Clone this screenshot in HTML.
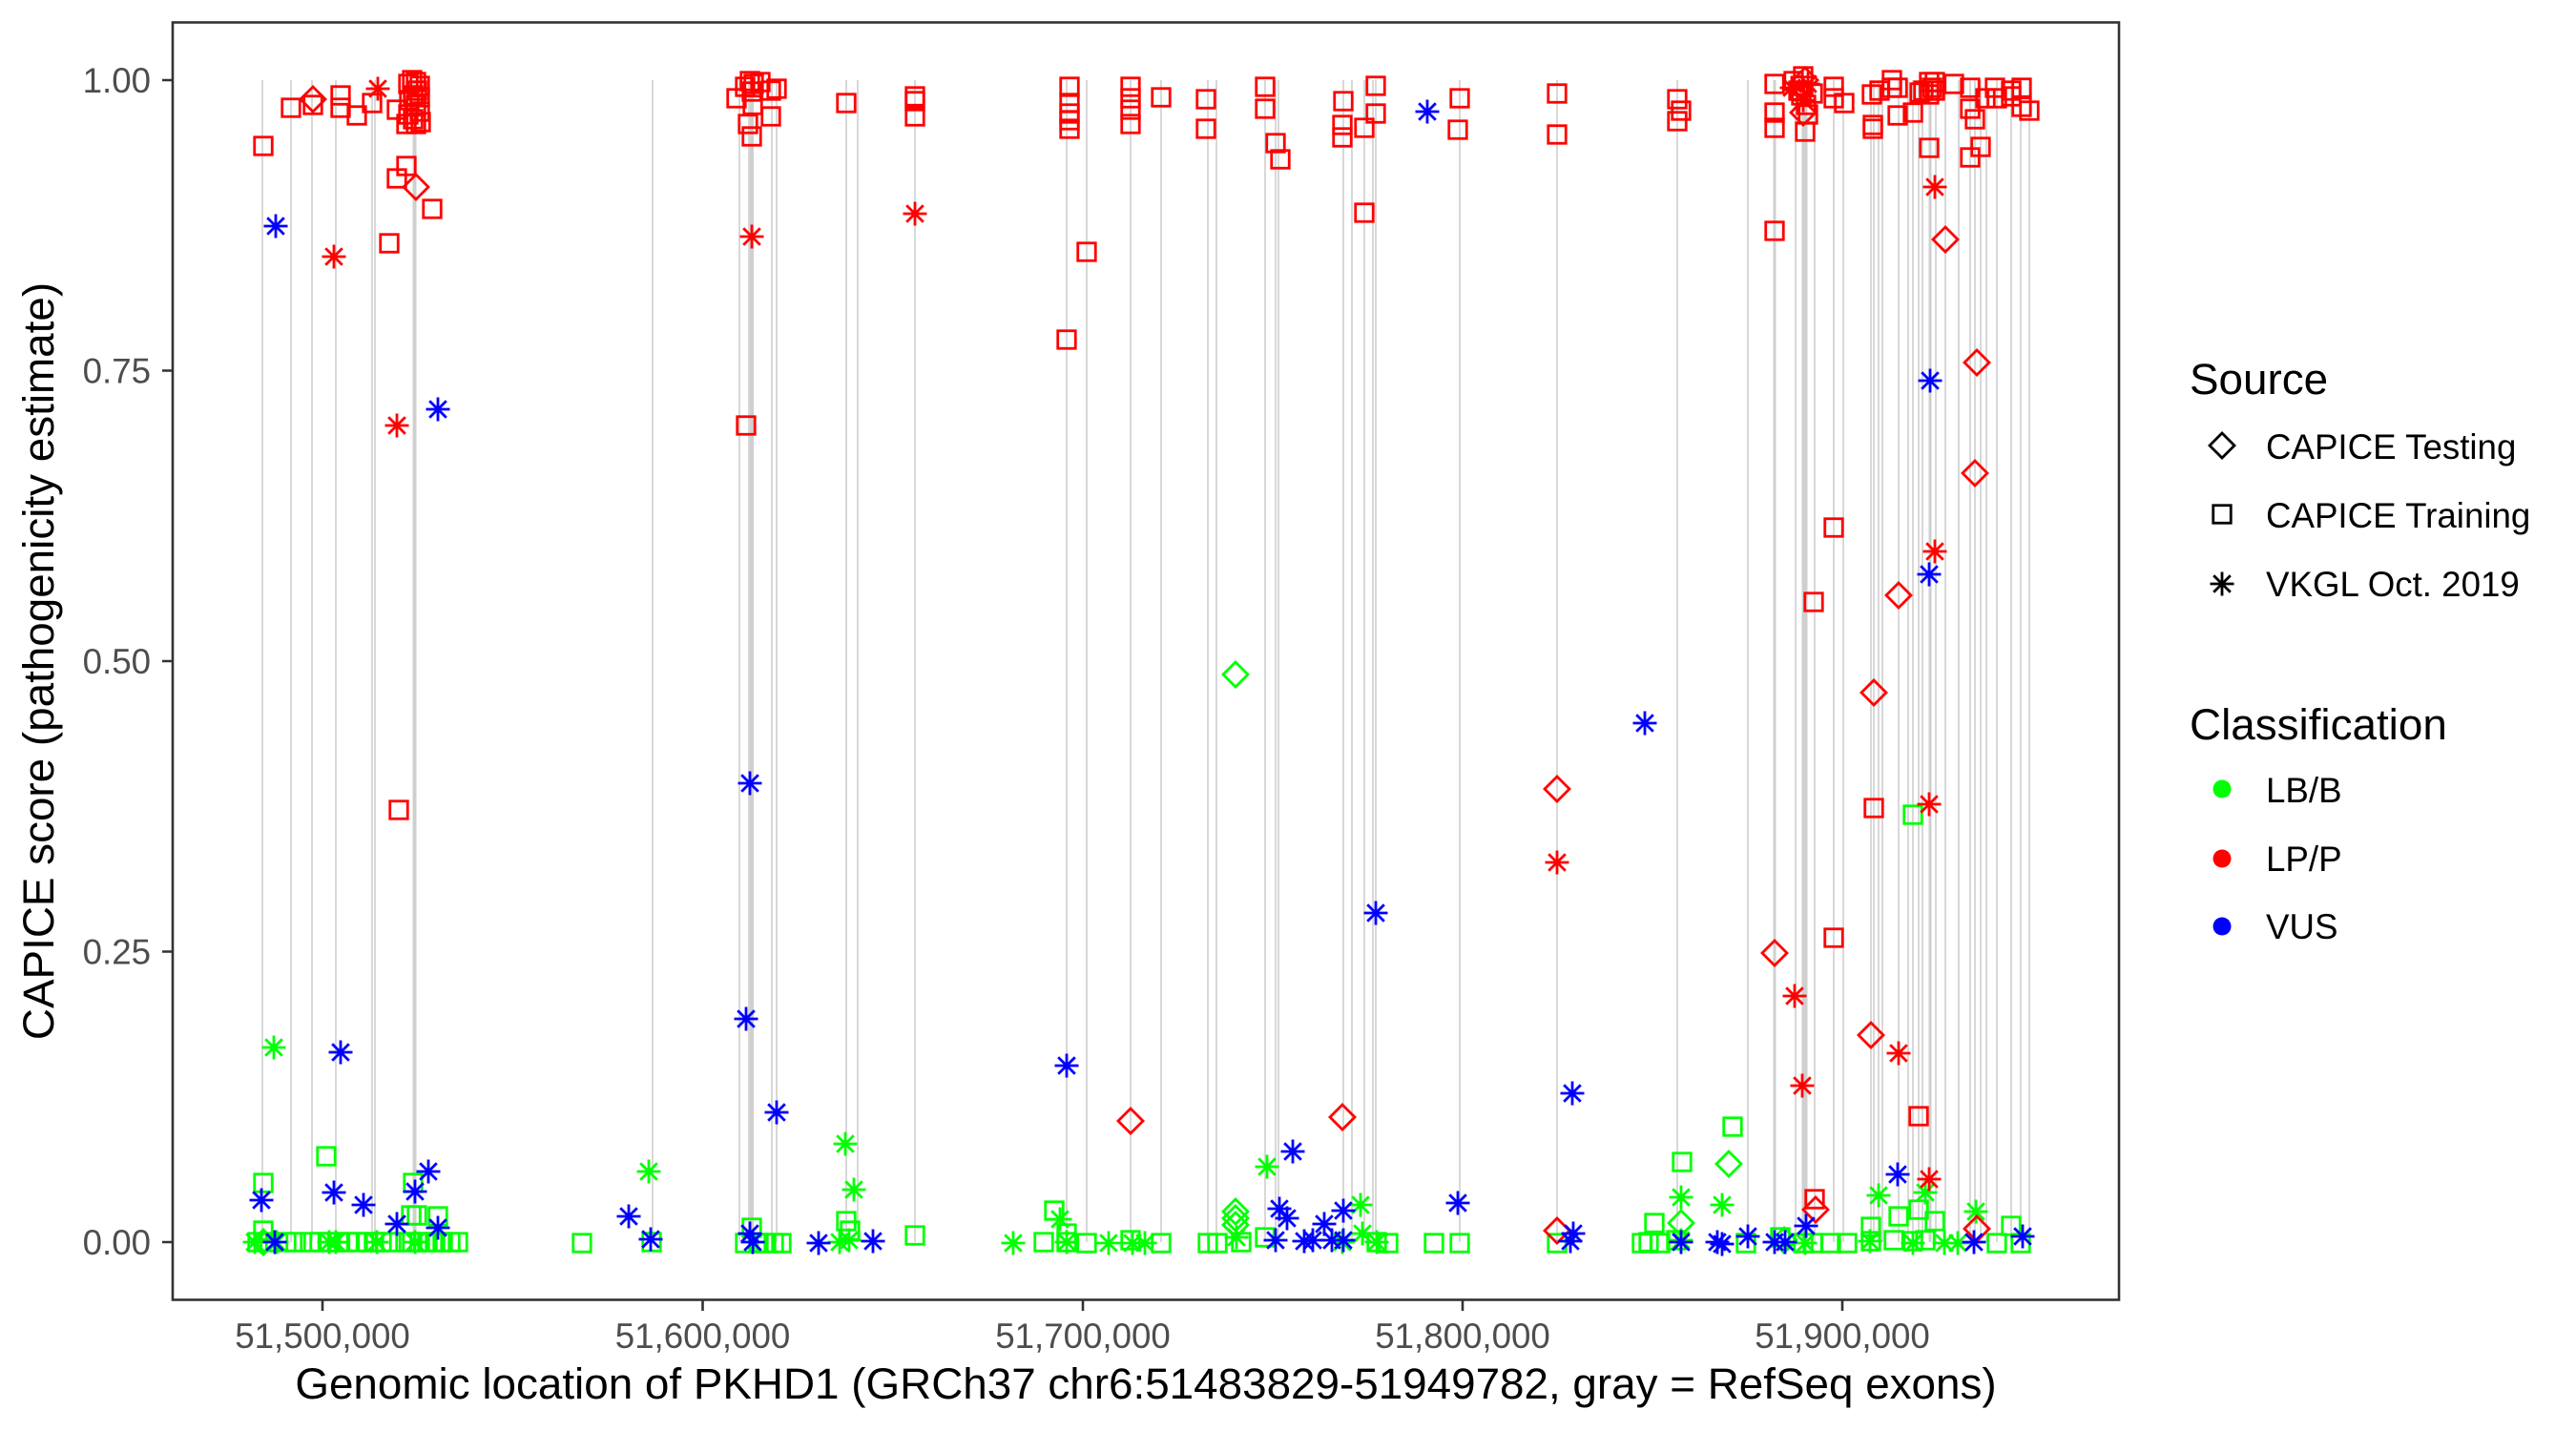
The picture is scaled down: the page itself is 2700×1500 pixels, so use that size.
<!DOCTYPE html>
<html><head><meta charset="utf-8"><style>
html,body{margin:0;padding:0;background:#fff;}
svg{display:block;}
text{font-family:"Liberation Sans",Arial,sans-serif;}
</style></head><body>
<svg width="2700" height="1500" viewBox="0 0 2700 1500" xmlns="http://www.w3.org/2000/svg">
<defs>
<rect id="s" x="-9.25" y="-9.25" width="18.5" height="18.5"/>
<polygon id="d" points="0,-13 13,0 0,13 -13,0"/>
<path id="a" d="M-12.5,0H12.5M0,-12.5V12.5M-8.8,-8.8L8.8,8.8M-8.8,8.8L8.8,-8.8"/>
</defs>
<rect x="0" y="0" width="2700" height="1500" fill="#fff"/>
<!-- exon lines -->
<g stroke="#CFCFCF" stroke-width="1.6">
<path d="M275,84V1302M305,84V1302M327,84V1302M352,84V1302M390,84V1302M393,84V1302M684,84V1302M775,84V1302M785,84V1302M809,84V1302M814,84V1302M887,84V1302M899,84V1302M959,84V1302M1118,84V1302M1139,84V1302M1185,84V1302M1217,84V1302M1266,84V1302M1275,84V1302M1326,84V1302M1337,84V1302M1340,84V1302M1408,84V1302M1417,84V1302M1430,84V1302M1439,84V1302M1442,84V1302M1530,84V1302M1632,84V1302M1758,84V1302M1832,84V1302M1882,84V1302M1902,84V1302M1922,84V1302M1932,84V1302M1961,84V1302M1964,84V1302M1969,84V1302M1973,84V1302M1990,84V1302M2000,84V1302M2005,84V1302M2011,84V1302M2015,84V1302M2029,84V1302M2039,84V1302M2053,84V1302M2065,84V1302M2070,84V1302M2076,84V1302M2082,84V1302M2093,84V1302M2108,84V1302M2118,84V1302M2127,84V1302"/>
<path stroke-width="4" d="M434.5,84V1302M788,84V1302"/>
<path stroke-width="3" d="M1860,84V1302M2023,84V1302"/>
<path stroke-width="6" d="M1891.5,84V1302"/>
</g>
<!-- green points -->
<g fill="none" stroke="#00FF00" stroke-width="2.8">
<use href="#s" x="342" y="1212"/><use href="#s" x="276" y="1240"/><use href="#s" x="433" y="1240"/><use href="#s" x="431" y="1274"/><use href="#s" x="437" y="1274"/><use href="#s" x="459" y="1275"/><use href="#s" x="276" y="1290"/>
<use href="#s" x="270" y="1302"/><use href="#s" x="283" y="1302"/><use href="#s" x="300" y="1302"/><use href="#s" x="310" y="1302"/><use href="#s" x="325" y="1302"/><use href="#s" x="335" y="1302"/><use href="#s" x="345" y="1302"/><use href="#s" x="355" y="1302"/><use href="#s" x="365" y="1302"/><use href="#s" x="375" y="1302"/><use href="#s" x="385" y="1302"/><use href="#s" x="392" y="1302"/><use href="#s" x="400" y="1302"/><use href="#s" x="410" y="1302"/><use href="#s" x="425" y="1302"/><use href="#s" x="432" y="1302"/><use href="#s" x="440" y="1302"/><use href="#s" x="448" y="1302"/><use href="#s" x="456" y="1302"/><use href="#s" x="464" y="1302"/><use href="#s" x="472" y="1302"/><use href="#s" x="480" y="1302"/>
<use href="#s" x="610" y="1303"/><use href="#s" x="683" y="1302"/><use href="#s" x="781" y="1303"/><use href="#s" x="788" y="1287"/><use href="#s" x="795" y="1303"/><use href="#s" x="803" y="1303"/><use href="#s" x="811" y="1303"/><use href="#s" x="819" y="1303"/>
<use href="#s" x="887" y="1280"/><use href="#s" x="891" y="1290"/><use href="#s" x="959" y="1295"/><use href="#s" x="1094" y="1302"/><use href="#s" x="1105" y="1269"/><use href="#s" x="1118" y="1293"/><use href="#s" x="1118" y="1302"/><use href="#s" x="1139" y="1303"/><use href="#s" x="1185" y="1300"/><use href="#s" x="1217" y="1303"/><use href="#s" x="1266" y="1303"/><use href="#s" x="1276" y="1303"/><use href="#s" x="1301" y="1302"/><use href="#s" x="1326" y="1297"/><use href="#s" x="1443" y="1302"/><use href="#s" x="1455" y="1303"/><use href="#s" x="1503" y="1303"/><use href="#s" x="1530" y="1303"/><use href="#s" x="1632" y="1303"/><use href="#s" x="1721" y="1303"/><use href="#s" x="1728" y="1302"/><use href="#s" x="1740" y="1303"/><use href="#s" x="1734" y="1282"/><use href="#s" x="1763" y="1218"/><use href="#s" x="1757" y="1300"/>
<use href="#s" x="1816" y="1181"/><use href="#s" x="2005" y="854"/><use href="#s" x="1990" y="1275"/><use href="#s" x="2011" y="1268"/><use href="#s" x="2028" y="1280"/><use href="#s" x="1961" y="1286"/><use href="#s" x="2108" y="1285"/>
<use href="#s" x="1830" y="1303"/><use href="#s" x="1866" y="1297"/><use href="#s" x="1890" y="1303"/><use href="#s" x="1900" y="1303"/><use href="#s" x="1919" y="1303"/><use href="#s" x="1936" y="1303"/><use href="#s" x="1961" y="1301"/><use href="#s" x="1985" y="1300"/><use href="#s" x="2005" y="1301"/><use href="#s" x="2018" y="1300"/><use href="#s" x="2093" y="1303"/><use href="#s" x="2118" y="1303"/>
<use href="#a" x="287" y="1098"/><use href="#a" x="680" y="1228"/><use href="#a" x="886" y="1199"/><use href="#a" x="895" y="1247"/><use href="#a" x="1062" y="1303"/><use href="#a" x="1111" y="1278"/><use href="#a" x="1162" y="1303"/><use href="#a" x="1187" y="1303"/><use href="#a" x="1200" y="1303"/><use href="#a" x="1328" y="1223"/><use href="#a" x="1407" y="1302"/><use href="#a" x="1426" y="1263"/><use href="#a" x="1428" y="1293"/><use href="#a" x="1443" y="1302"/><use href="#a" x="1762" y="1255"/><use href="#a" x="1762" y="1300"/><use href="#a" x="1805" y="1263"/><use href="#a" x="1969" y="1253"/><use href="#a" x="2018" y="1250"/><use href="#a" x="2071" y="1270"/>
<use href="#a" x="1892" y="1303"/><use href="#a" x="1960" y="1301"/><use href="#a" x="2005" y="1303"/><use href="#a" x="2038" y="1303"/><use href="#a" x="2052" y="1303"/>
<use href="#a" x="267" y="1302"/><use href="#a" x="290" y="1302"/><use href="#a" x="345" y="1302"/><use href="#a" x="352" y="1302"/><use href="#a" x="395" y="1302"/><use href="#a" x="435" y="1302"/><use href="#a" x="880" y="1302"/><use href="#a" x="890" y="1300"/><use href="#a" x="1118" y="1302"/><use href="#a" x="1296" y="1297"/>
<use href="#d" x="1295" y="707"/><use href="#d" x="1295" y="1270"/><use href="#d" x="1295" y="1277"/><use href="#d" x="1295" y="1284"/><use href="#d" x="1812" y="1220"/><use href="#d" x="1762" y="1282"/><use href="#d" x="276" y="1302"/><use href="#d" x="1870" y="1300"/>
</g>
<!-- red points -->
<g fill="none" stroke="#FF0000" stroke-width="2.8">
<use href="#s" x="276" y="153"/><use href="#s" x="305" y="113"/><use href="#s" x="328" y="110"/><use href="#s" x="357" y="100"/><use href="#s" x="357" y="113"/><use href="#s" x="374" y="121"/><use href="#s" x="390" y="108"/><use href="#s" x="416" y="115"/>
<use href="#s" x="428" y="88"/><use href="#s" x="432" y="84"/><use href="#s" x="436" y="86"/><use href="#s" x="440" y="90"/><use href="#s" x="437" y="95"/><use href="#s" x="433" y="100"/><use href="#s" x="440" y="102"/><use href="#s" x="429" y="105"/><use href="#s" x="436" y="110"/><use href="#s" x="440" y="117"/><use href="#s" x="428" y="120"/><use href="#s" x="433" y="125"/><use href="#s" x="436" y="130"/><use href="#s" x="441" y="128"/><use href="#s" x="426" y="130"/>
<use href="#s" x="426" y="174"/><use href="#s" x="416" y="187"/><use href="#s" x="453" y="219"/><use href="#s" x="408" y="255"/><use href="#s" x="418" y="849"/>
<use href="#s" x="772" y="103"/><use href="#s" x="781" y="91"/><use href="#s" x="786" y="85"/><use href="#s" x="790" y="88"/><use href="#s" x="788" y="96"/><use href="#s" x="789" y="110"/><use href="#s" x="784" y="130"/><use href="#s" x="788" y="143"/><use href="#s" x="808" y="122"/><use href="#s" x="808" y="95"/><use href="#s" x="814" y="93"/><use href="#s" x="797" y="86"/><use href="#s" x="782" y="446"/><use href="#s" x="887" y="108"/>
<use href="#s" x="959" y="101"/><use href="#s" x="959" y="106"/><use href="#s" x="959" y="122"/><use href="#s" x="1121" y="91"/><use href="#s" x="1121" y="108"/><use href="#s" x="1121" y="119"/><use href="#s" x="1121" y="126"/><use href="#s" x="1121" y="135"/><use href="#s" x="1118" y="356"/><use href="#s" x="1139" y="264"/><use href="#s" x="1185" y="91"/><use href="#s" x="1185" y="103"/><use href="#s" x="1185" y="115"/><use href="#s" x="1185" y="130"/><use href="#s" x="1217" y="102"/><use href="#s" x="1264" y="104"/><use href="#s" x="1264" y="135"/><use href="#s" x="1326" y="91"/><use href="#s" x="1326" y="114"/><use href="#s" x="1337" y="150"/><use href="#s" x="1342" y="167"/><use href="#s" x="1408" y="106"/><use href="#s" x="1407" y="131"/><use href="#s" x="1407" y="144"/><use href="#s" x="1430" y="134"/><use href="#s" x="1442" y="90"/><use href="#s" x="1442" y="119"/><use href="#s" x="1430" y="223"/><use href="#s" x="1530" y="103"/><use href="#s" x="1528" y="136"/><use href="#s" x="1632" y="98"/><use href="#s" x="1632" y="141"/><use href="#s" x="1758" y="104"/><use href="#s" x="1762" y="116"/><use href="#s" x="1758" y="127"/>
<use href="#s" x="1860" y="88"/><use href="#s" x="1860" y="118"/><use href="#s" x="1860" y="134"/><use href="#s" x="1860" y="242"/><use href="#s" x="1880" y="85"/><use href="#s" x="1890" y="80"/><use href="#s" x="1890" y="90"/><use href="#s" x="1888" y="100"/><use href="#s" x="1885" y="95"/><use href="#s" x="1893" y="110"/><use href="#s" x="1895" y="120"/><use href="#s" x="1892" y="138"/><use href="#s" x="1900" y="98"/><use href="#s" x="1922" y="91"/><use href="#s" x="1922" y="103"/><use href="#s" x="1933" y="108"/><use href="#s" x="1962" y="99"/><use href="#s" x="1963" y="131"/><use href="#s" x="1963" y="135"/><use href="#s" x="1970" y="95"/><use href="#s" x="1983" y="84"/><use href="#s" x="1983" y="92"/><use href="#s" x="1989" y="92"/><use href="#s" x="1989" y="121"/><use href="#s" x="2005" y="118"/><use href="#s" x="2012" y="97"/><use href="#s" x="2016" y="95"/><use href="#s" x="2022" y="86"/><use href="#s" x="2022" y="99"/><use href="#s" x="2025" y="92"/><use href="#s" x="2028" y="86"/><use href="#s" x="2028" y="95"/><use href="#s" x="2048" y="88"/><use href="#s" x="2065" y="92"/><use href="#s" x="2065" y="114"/><use href="#s" x="2070" y="125"/><use href="#s" x="2081" y="103"/><use href="#s" x="2091" y="92"/><use href="#s" x="2093" y="103"/><use href="#s" x="2108" y="95"/><use href="#s" x="2108" y="101"/><use href="#s" x="2119" y="92"/><use href="#s" x="2119" y="112"/><use href="#s" x="2127" y="116"/><use href="#s" x="2022" y="155"/><use href="#s" x="2065" y="165"/><use href="#s" x="2076" y="154"/><use href="#s" x="1922" y="553"/><use href="#s" x="1901" y="631"/><use href="#s" x="1964" y="847"/><use href="#s" x="1922" y="983"/><use href="#s" x="2011" y="1170"/><use href="#s" x="1902" y="1257"/>
<use href="#d" x="328" y="104"/><use href="#d" x="436" y="196"/><use href="#d" x="1185" y="1175"/><use href="#d" x="1407" y="1171"/><use href="#d" x="1632" y="827"/><use href="#d" x="1632" y="1290"/><use href="#d" x="2039" y="251"/><use href="#d" x="2072" y="380"/><use href="#d" x="2070" y="496"/><use href="#d" x="1990" y="624"/><use href="#d" x="1964" y="726"/><use href="#d" x="1860" y="999"/><use href="#d" x="1961" y="1085"/><use href="#d" x="1903" y="1268"/><use href="#d" x="2072" y="1288"/><use href="#d" x="1890" y="118"/><use href="#d" x="1892" y="84"/>
<use href="#a" x="396" y="93"/><use href="#a" x="350" y="269"/><use href="#a" x="416" y="446"/><use href="#a" x="788" y="248"/><use href="#a" x="959" y="224"/><use href="#a" x="1632" y="904"/><use href="#a" x="2028" y="196"/><use href="#a" x="2028" y="578"/><use href="#a" x="2022" y="843"/><use href="#a" x="1881" y="1044"/><use href="#a" x="1990" y="1104"/><use href="#a" x="1889" y="1138"/><use href="#a" x="2022" y="1236"/><use href="#a" x="1878" y="92"/><use href="#a" x="1895" y="88"/><use href="#a" x="1890" y="105"/>
</g>
<!-- blue points -->
<g fill="none" stroke="#0000FF" stroke-width="2.8">
<use href="#a" x="289" y="237"/><use href="#a" x="459" y="429"/><use href="#a" x="786" y="821"/><use href="#a" x="274" y="1258"/><use href="#a" x="350" y="1250"/><use href="#a" x="381" y="1263"/><use href="#a" x="416" y="1283"/><use href="#a" x="435" y="1249"/><use href="#a" x="449" y="1228"/><use href="#a" x="459" y="1287"/><use href="#a" x="357" y="1103"/><use href="#a" x="782" y="1068"/><use href="#a" x="814" y="1166"/><use href="#a" x="659" y="1275"/><use href="#a" x="682" y="1299"/><use href="#a" x="858" y="1303"/><use href="#a" x="786" y="1293"/><use href="#a" x="789" y="1302"/><use href="#a" x="288" y="1302"/><use href="#a" x="915" y="1301"/>
<use href="#a" x="1496" y="117"/><use href="#a" x="1442" y="957"/><use href="#a" x="1724" y="758"/><use href="#a" x="1118" y="1117"/><use href="#a" x="1355" y="1207"/><use href="#a" x="1341" y="1267"/><use href="#a" x="1349" y="1277"/><use href="#a" x="1337" y="1300"/><use href="#a" x="1367" y="1301"/><use href="#a" x="1376" y="1300"/><use href="#a" x="1388" y="1283"/><use href="#a" x="1408" y="1269"/><use href="#a" x="1408" y="1300"/><use href="#a" x="1396" y="1300"/><use href="#a" x="1528" y="1261"/><use href="#a" x="1648" y="1146"/><use href="#a" x="1649" y="1293"/><use href="#a" x="1646" y="1301"/><use href="#a" x="1762" y="1302"/><use href="#a" x="1800" y="1302"/>
<use href="#a" x="2023" y="399"/><use href="#a" x="2022" y="602"/><use href="#a" x="1989" y="1231"/><use href="#a" x="1893" y="1285"/><use href="#a" x="1832" y="1296"/><use href="#a" x="1860" y="1302"/><use href="#a" x="1871" y="1302"/><use href="#a" x="2069" y="1302"/><use href="#a" x="2120" y="1296"/><use href="#a" x="1805" y="1304"/>
</g>
<!-- panel border -->
<rect x="181" y="23.5" width="2040" height="1339" fill="none" stroke="#333333" stroke-width="2.6"/>
<!-- ticks -->
<g stroke="#333333" stroke-width="2.6">
<path d="M170,84H181M170,388.5H181M170,693H181M170,997.5H181M170,1302H181"/>
<path d="M338,1363V1374M736.5,1363V1374M1135,1363V1374M1533,1363V1374M1931,1363V1374"/>
</g>
<g font-size="36.7" fill="#4D4D4D">
<g text-anchor="end">
<text x="158" y="97">1.00</text>
<text x="158" y="401.5">0.75</text>
<text x="158" y="706">0.50</text>
<text x="158" y="1010.5">0.25</text>
<text x="158" y="1315">0.00</text>
</g>
<g text-anchor="middle">
<text x="338" y="1413">51,500,000</text>
<text x="736.5" y="1413">51,600,000</text>
<text x="1135" y="1413">51,700,000</text>
<text x="1533" y="1413">51,800,000</text>
<text x="1931" y="1413">51,900,000</text>
</g>
</g>
<text x="1201" y="1466" font-size="45.8" text-anchor="middle" fill="#000">Genomic location of PKHD1 (GRCh37 chr6:51483829-51949782, gray = RefSeq exons)</text>
<text transform="translate(56,693) rotate(-90)" font-size="45.8" text-anchor="middle" fill="#000">CAPICE score (pathogenicity estimate)</text>
<!-- legend -->
<text x="2295" y="413" font-size="45.8" fill="#000">Source</text>
<g fill="none" stroke="#000" stroke-width="2.8">
<use href="#d" x="2329" y="467"/>
<use href="#s" x="2329" y="539"/>
<use href="#a" x="2329" y="612"/>
</g>
<g font-size="36.7" fill="#000">
<text x="2375" y="481">CAPICE Testing</text>
<text x="2375" y="553">CAPICE Training</text>
<text x="2375" y="625">VKGL Oct. 2019</text>
</g>
<text x="2295" y="775" font-size="45.8" fill="#000">Classification</text>
<circle cx="2329" cy="827" r="9.5" fill="#00FF00"/>
<circle cx="2329" cy="900" r="9.5" fill="#FF0000"/>
<circle cx="2329" cy="971" r="9.5" fill="#0000FF"/>
<g font-size="36.7" fill="#000">
<text x="2375" y="841">LB/B</text>
<text x="2375" y="913">LP/P</text>
<text x="2375" y="984">VUS</text>
</g>
</svg>
</body></html>
